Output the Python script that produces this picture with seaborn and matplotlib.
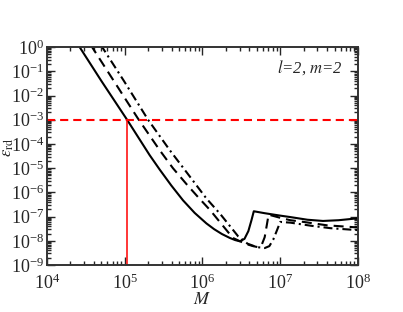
import numpy as np
import matplotlib
matplotlib.use("Agg")
import matplotlib.pyplot as plt
import matplotlib.ticker as mticker
import seaborn as sns

# curves, as log10 values
solid_logM = [4.40, 4.70, 5.03, 5.32, 5.45, 5.60, 5.75, 5.90, 6.05, 6.15, 6.25, 6.35, 6.42, 6.48,
              6.54, 6.59, 6.63, 6.66, 6.80, 7.00, 7.13, 7.35, 7.55, 7.75, 8.00]
solid_logE = [0.10, -1.40, -3.00, -4.46, -5.06, -5.72, -6.33, -6.85, -7.28, -7.52, -7.72, -7.88, -7.97, -8.02,
              -7.92, -7.60, -7.15, -6.78, -6.86, -6.96, -7.02, -7.13, -7.18, -7.15, -7.07]

dashed_logM = [4.56, 4.86, 5.17, 5.45, 5.62, 5.80, 5.95, 6.10, 6.25, 6.39, 6.55, 6.65, 6.71, 6.76,
               6.80, 6.83, 6.85, 7.00, 7.13, 7.30, 7.60, 8.00]
dashed_logE = [0.10, -1.40, -2.95, -4.26, -5.00, -5.68, -6.22, -6.74, -7.33, -7.88, -8.12, -8.22, -8.26, -8.18,
               -7.85, -7.30, -6.92, -7.05, -7.15, -7.22, -7.36, -7.45]

dashdot_logM = [4.69, 4.99, 5.30, 5.58, 5.85, 6.05, 6.23, 6.35, 6.46, 6.58, 6.70, 6.80, 6.86, 6.91,
                6.96, 7.00, 7.13, 7.40, 7.65, 8.00]
dashdot_logE = [0.10, -1.40, -3.00, -4.26, -5.40, -6.25, -6.90, -7.38, -7.82, -8.12, -8.26, -8.30, -8.22, -7.95,
                -7.55, -7.22, -7.25, -7.38, -7.48, -7.56]

eps_limit = 1e-3
M_limit = 1.07e5

sns.set_style("ticks")
plt.rcParams['font.family'] = ['Liberation Serif', 'DejaVu Serif']
plt.rcParams['mathtext.fontset'] = 'stix'

fig = plt.figure(figsize=(4.03, 3.12), dpi=100)
ax = fig.add_axes([0.1166, 0.1506, 0.7717, 0.6984])

ax.set_xscale('log')
ax.set_yscale('log')

sns.lineplot(x=10 ** np.array(solid_logM), y=10 ** np.array(solid_logE), ax=ax,
             color='black', lw=1.5, estimator=None, sort=False)
sns.lineplot(x=10 ** np.array(dashed_logM), y=10 ** np.array(dashed_logE), ax=ax,
             color='black', lw=1.5, estimator=None, sort=False)
sns.lineplot(x=10 ** np.array(dashdot_logM), y=10 ** np.array(dashdot_logE), ax=ax,
             color='black', lw=1.5, estimator=None, sort=False)
ax.lines[1].set_dashes([4.8, 2.9])
ax.lines[2].set_dashes([4.3, 1.9, 1.0, 1.9])

ax.axhline(eps_limit, color='red', lw=1.5, dashes=(3.9, 2.4))
ax.plot([M_limit, M_limit], [1e-9, eps_limit], color='red', lw=1.1)

ax.set_xlim(1e4, 1e8)
ax.set_ylim(1e-9, 1e0)

ax.xaxis.set_major_locator(mticker.LogLocator(base=10, numticks=20))
ax.yaxis.set_major_locator(mticker.LogLocator(base=10, numticks=20))
ax.xaxis.set_minor_locator(mticker.LogLocator(base=10, subs=np.arange(2, 10), numticks=20))
ax.yaxis.set_minor_locator(mticker.LogLocator(base=10, subs=np.arange(2, 10), numticks=20))
ax.xaxis.set_minor_formatter(mticker.NullFormatter())
ax.yaxis.set_minor_formatter(mticker.NullFormatter())

ax.tick_params(which='both', direction='in', top=True, right=True, labelsize=13, width=1.0)
ax.tick_params(which='major', length=6)
ax.tick_params(which='minor', length=3)
ax.tick_params(axis='x', pad=6)
ax.tick_params(axis='y', pad=2)
for s in ax.spines.values():
    s.set_linewidth(1.4)
    s.set_color('#333333')

ax.set_xlabel(r'$M$', fontsize=13)
ax.xaxis.set_label_coords(0.5, -0.12)
ax.set_ylabel(r'$\varepsilon_{\rm rd}$', fontsize=12)
ax.yaxis.set_label_coords(-0.1, 0.54)
ax.text(0.95, 0.905, r'$l$=2, $m$=2', transform=ax.transAxes, ha='right', va='center',
        fontsize=12, fontstyle='italic')

fig.savefig('out.png', dpi=100)
